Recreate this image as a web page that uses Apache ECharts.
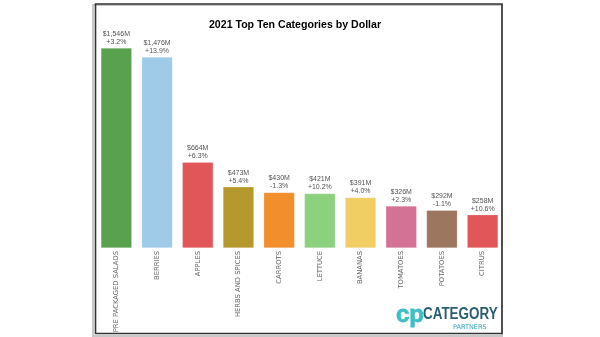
<!DOCTYPE html>
<html>
<head>
<meta charset="utf-8">
<script src="https://cdn.jsdelivr.net/npm/echarts@6/dist/echarts.min.js"></script>
<style>
  html, body { margin: 0; padding: 0; background: #fff; }
  #chart { width: 600px; height: 337px; }
</style>
</head>
<body>
<div id="chart"></div>
<script>
// 2021 top ten produce categories, dollar sales (millions) and change vs prior year
const categories = ['PRE PACKAGED SALADS', 'BERRIES', 'APPLES', 'HERBS AND SPICES', 'CARROTS',
                    'LETTUCE', 'BANANAS', 'TOMATOES', 'POTATOES', 'CITRUS'];
const dollars = [1546, 1476, 664, 473, 430, 421, 391, 326, 292, 258];
const changes = ['+3.2%', '+13.9%', '+6.3%', '+5.4%', '-1.3%', '+10.2%', '+4.0%', '+2.3%', '-1.1%', '+10.6%'];
const colors = ['#59a14f', '#a0cbe8', '#e15759', '#b6992d', '#f28e2b',
                '#8cd17d', '#f1ce63', '#d37295', '#9d7660', '#e15759'];

const fmtDollar = v => '$' + v.toLocaleString('en-US') + 'M';

const chart = echarts.init(document.getElementById('chart'), null, { renderer: 'canvas' });

chart.setOption({
  animation: false,
  backgroundColor: '#fff',
  title: {
    text: '2021 Top Ten Categories by Dollar',
    left: 290,
    top: 15,
    textAlign: 'center',
    textStyle: { fontFamily: 'Liberation Sans, Arial, sans-serif', fontSize: 10.6, fontWeight: 'bold', color: '#000' }
  },
  grid: { left: 96, right: 97, top: 48, bottom: 89 },
  xAxis: {
    type: 'category',
    data: categories,
    axisLine: { show: false },
    axisTick: { show: false },
    axisLabel: {
      interval: 0,
      rotate: 90,
      margin: 3,
      fontFamily: 'DejaVu Sans, sans-serif',
      fontSize: 6.8,
      color: '#666'
    }
  },
  yAxis: {
    type: 'value',
    min: 0,
    max: 1546,
    show: false,
    splitLine: { show: false }
  },
  series: [{
    type: 'bar',
    barWidth: 31,
    data: dollars.map((v, i) => ({
      value: v,
      itemStyle: { color: colors[i], borderColor: 'rgba(255,255,255,0.35)', borderWidth: 0.6 }
    })),
    label: {
      show: true,
      position: 'top',
      distance: 2,
      fontFamily: 'Liberation Sans, Arial, sans-serif',
      fontSize: 7,
      lineHeight: 8,
      color: '#555',
      formatter: p => fmtDollar(dollars[p.dataIndex]) + '\n' + changes[p.dataIndex]
    }
  }],
  graphic: [
    // frame with a soft shadow on its left and bottom
    { type: 'rect', shape: { x: 93, y: 5, width: 409, height: 331 }, style: { fill: 'none', stroke: '#c8c8c8', lineWidth: 2 }, silent: true },
    { type: 'rect', shape: { x: 95.5, y: 4, width: 406.5, height: 329.5 }, style: { fill: 'none', stroke: '#333', lineWidth: 1.6 }, silent: true },
    // company mark
    { type: 'text', x: 396, y: 303, style: { text: 'cp', font: 'bold 24px "Liberation Sans", sans-serif', fill: '#3ebfc6', stroke: '#3ebfc6', lineWidth: 0.8 }, silent: true },
    { type: 'text', x: 423, y: 307, scaleX: 0.84, style: { text: 'CATEGORY', font: 'bold 16px "Liberation Sans", sans-serif', fill: '#2c5e72' }, silent: true },
    { type: 'text', x: 453, y: 323.5, style: { text: 'PARTNERS', font: '6.5px "DejaVu Sans", sans-serif', fill: '#2aa5b5' }, silent: true }
  ]
});
</script>
</body>
</html>
